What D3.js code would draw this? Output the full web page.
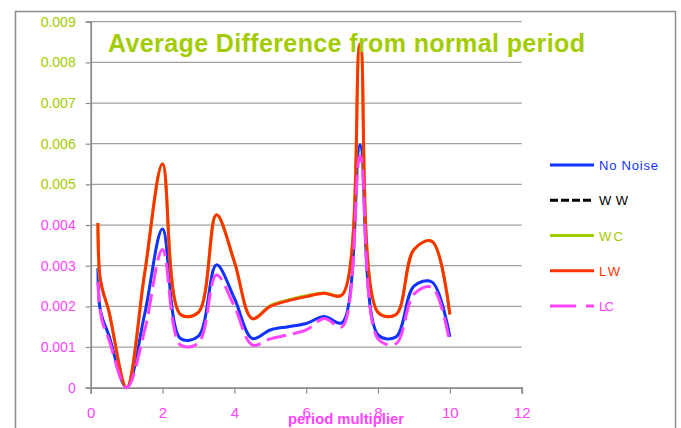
<!DOCTYPE html>
<html>
<head>
<meta charset="utf-8">
<script src="https://cdn.jsdelivr.net/npm/d3@7"></script>
<style>
  html, body { margin: 0; padding: 0; background: #fff; }
  svg { display: block; font-family: "Liberation Sans", Arial, sans-serif; }
</style>
</head>
<body>
<svg id="chart" width="681" height="428"></svg>
<script>
// Period multipliers sampled along the x axis
const periods = [0.2, 0.25, 0.33, 0.5, 1, 1.5, 2, 2.5, 3, 3.5, 4, 4.5, 5, 5.5, 6, 6.5, 7, 7.5, 8, 8.5, 9, 9.5, 10];

// Average difference from the normal period, one array per noise condition
const noNoise = [0.00294, 0.0020, 0.0017, 0.0013, 0, 0.0018, 0.0039, 0.00121, 0.00127, 0.00302, 0.0022, 0.00121, 0.00142, 0.0015, 0.00158, 0.00175, 0.0016, 0.00597, 0.0013, 0.00125, 0.0025, 0.0026, 0.00125];
const ww      = [0.00294, 0.0020, 0.0017, 0.0013, 0, 0.0018, 0.0039, 0.00121, 0.00127, 0.00302, 0.0022, 0.00121, 0.00142, 0.0015, 0.00158, 0.00175, 0.0016, 0.00597, 0.0013, 0.00125, 0.0025, 0.0026, 0.00125];
const wc      = [0.00405, 0.0027, 0.0024, 0.0019, 0, 0.0028, 0.0055, 0.0018, 0.00186, 0.00425, 0.0031, 0.0017, 0.00202, 0.00216, 0.00226, 0.00233, 0.00229, 0.00845, 0.00186, 0.0018, 0.0034, 0.0036, 0.0018];
const lw      = [0.00405, 0.0028, 0.0024, 0.0019, 0, 0.0028, 0.0055, 0.0018, 0.00185, 0.00425, 0.0031, 0.0017, 0.0020, 0.00214, 0.00224, 0.00232, 0.00228, 0.00845, 0.00185, 0.0018, 0.0034, 0.0036, 0.0018];
const lc      = [0.0026, 0.0020, 0.0016, 0.0012, 0, 0.0014, 0.0034, 0.00105, 0.0011, 0.00277, 0.0020, 0.00105, 0.0012, 0.0013, 0.00142, 0.0017, 0.0015, 0.0057, 0.0012, 0.00108, 0.0023, 0.00247, 0.00109];

const seriesNames = ["No Noise", "WW", "WC", "LW", "LC"];

// Axis ticks
const xTicks = [0, 2, 4, 6, 8, 10, 12];
const yTicks = [0, 0.001, 0.002, 0.003, 0.004, 0.005, 0.006, 0.007, 0.008, 0.009];

const title = "Average Difference from normal period";
const xTitle = "period multiplier";

// ---- drawing ----
const svg = d3.select("#chart");
const green = "#a2cc00", magenta = "#ff44ff";

const plot = { left: 90.7, right: 521.7, top: 21.7, bottom: 387.7 };
const x = d3.scaleLinear().domain([0, 12]).range([plot.left, plot.right]);
const y = d3.scaleLinear().domain([0, 0.009]).range([plot.bottom, plot.top]);

// outer chart frame
svg.append("rect")
  .attr("x", 15.5).attr("y", 11.5).attr("width", 660).attr("height", 430)
  .attr("fill", "none").attr("stroke", "#8c8c8c").attr("stroke-width", 1.5);

// horizontal gridlines
svg.append("g")
  .selectAll("line")
  .data(yTicks.filter(d => d > 0))
  .join("line")
  .attr("x1", plot.left).attr("x2", plot.right)
  .attr("y1", d => y(d)).attr("y2", d => y(d))
  .attr("stroke", "#a0a0a0").attr("stroke-width", 1.2);

// y axis
const yAxis = svg.append("g")
  .attr("transform", `translate(${plot.left},0)`)
  .call(d3.axisLeft(y).tickValues(yTicks).tickSize(5).tickPadding(10)
        .tickFormat(d => d === 0 ? "0" : d3.format(".3f")(d)));
yAxis.select(".domain").attr("stroke", "#8c8c8c").attr("stroke-width", 1.8);
yAxis.selectAll(".tick line").attr("stroke", "#8c8c8c").attr("stroke-width", 1.2);
yAxis.selectAll(".tick text")
  .attr("font-size", 14)
  .attr("font-family", "Liberation Sans, Arial, sans-serif")
  .attr("fill", d => d >= 0.005 ? green : magenta);

// x axis
const xAxis = svg.append("g")
  .attr("transform", `translate(0,${plot.bottom})`)
  .call(d3.axisBottom(x).tickValues(xTicks).tickSize(6).tickPadding(14));
xAxis.select(".domain").attr("stroke", "#8c8c8c").attr("stroke-width", 1.8);
xAxis.selectAll(".tick line").attr("stroke", "#8c8c8c").attr("stroke-width", 1.2);
xAxis.selectAll(".tick text")
  .attr("font-size", 15)
  .attr("font-family", "Liberation Sans, Arial, sans-serif")
  .attr("fill", magenta);

// series lines, smoothed with a centripetal Catmull-Rom spline
const line = d3.line()
  .x((d, i) => x(periods[i]))
  .y(d => y(d))
  .curve(d3.curveCatmullRom.alpha(0.5));

const series = [
  { name: "WW",       values: ww,      color: "#000000", width: 1.8, dash: "8,4" },
  { name: "No Noise", values: noNoise, color: "#1133ff", width: 3,   dash: null },
  { name: "WC",       values: wc,      color: "#a2cc00", width: 3,   dash: null },
  { name: "LW",       values: lw,      color: "#ff3300", width: 3,   dash: null },
  { name: "LC",       values: lc,      color: "#ff44ff", width: 3,   dash: "20,7" }
];

svg.append("g")
  .selectAll("path")
  .data(series)
  .join("path")
  .attr("d", s => line(s.values))
  .attr("fill", "none")
  .attr("stroke", s => s.color)
  .attr("stroke-width", s => s.width)
  .attr("stroke-linejoin", "round")
  .attr("stroke-dasharray", s => s.dash);

// legend
const legendStyle = {
  "No Noise": { color: "#1133ff", dash: null, textColor: "#1133ff", len: 59 },
  "WW":       { color: "#000000", dash: "8,3", textColor: "#000000", len: 29 },
  "WC":       { color: "#a2cc00", dash: null, textColor: "#a2cc00", len: 24 },
  "LW":       { color: "#ff3300", dash: null, textColor: "#ff3300", len: 21 },
  "LC":       { color: "#ff44ff", dash: "26,10", textColor: "#ff44ff", len: 15 }
};
const legendY = d3.scalePoint().domain(seriesNames).range([165, 306]);
const legend = svg.append("g")
  .selectAll("g")
  .data(seriesNames)
  .join("g")
  .attr("transform", d => `translate(0,${legendY(d)})`);
legend.append("line")
  .attr("x1", 550).attr("x2", 594).attr("y1", 0).attr("y2", 0)
  .attr("stroke", d => legendStyle[d].color)
  .attr("stroke-width", 3)
  .attr("stroke-dasharray", d => legendStyle[d].dash);
legend.append("text")
  .attr("x", 599).attr("y", 5)
  .attr("font-size", 13)
  .attr("fill", d => legendStyle[d].textColor)
  .attr("textLength", d => legendStyle[d].len)
  .attr("lengthAdjust", "spacing")
  .text(d => d);

// chart title
svg.append("text")
  .attr("x", 108).attr("y", 52)
  .attr("font-size", 25)
  .attr("font-weight", "bold")
  .attr("fill", green)
  .attr("textLength", 477)
  .attr("lengthAdjust", "spacing")
  .text(title);

// x axis title
svg.append("text")
  .attr("x", 288).attr("y", 424)
  .attr("font-size", 14)
  .attr("font-weight", "bold")
  .attr("fill", magenta)
  .attr("textLength", 116)
  .attr("lengthAdjust", "spacingAndGlyphs")
  .text(xTitle);
</script>
</body>
</html>
